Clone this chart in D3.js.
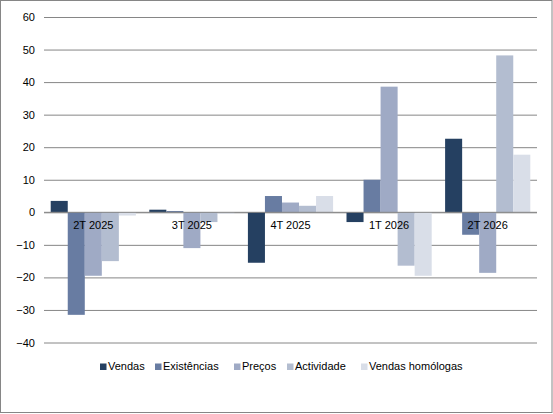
<!DOCTYPE html>
<html>
<head>
<meta charset="utf-8">
<script src="https://cdn.jsdelivr.net/npm/d3@7/dist/d3.min.js"></script>
<style>
  html, body { margin: 0; padding: 0; background: #fff; }
  svg { display: block; }
  text { font-family: "Liberation Sans", Arial, sans-serif; font-size: 11px; fill: #000; }
</style>
</head>
<body>
<svg id="chart" width="553" height="414"></svg>
<script>
const categories = ["2T 2025", "3T 2025", "4T 2025", "1T 2026", "2T 2026"];
const seriesNames = ["Vendas", "Existências", "Preços", "Actividade", "Vendas homólogas"];
const vendas      = [3.5, 0.8, -15.5, -3.0, 22.6];
const existencias = [-31.5, 0.4, 5.0, 10.0, -6.9];
const precos      = [-19.5, -11.0, 3.0, 38.6, -18.6];
const actividade  = [-15.0, -3.0, 2.0, -16.4, 48.2];
const vendasHom   = [-1.0, -0.4, 5.0, -19.5, 17.7];
const yTicks = [-40, -30, -20, -10, 0, 10, 20, 30, 40, 50, 60];
const colors = ["#254061", "#687CA2", "#9FAAC5", "#B3BDD0", "#D9DEE8"];

const seriesValues = [vendas, existencias, precos, actividade, vendasHom];

const svg = d3.select("#chart");

// outer frame
svg.append("rect")
  .attr("x", 0.5).attr("y", 0.5)
  .attr("width", 551.5).attr("height", 412)
  .attr("fill", "#fff").attr("stroke", "#868686").attr("stroke-width", 1);

const x0 = d3.scaleBand().domain(categories).range([44, 537]).paddingInner(0).paddingOuter(0);
const inner = x0.bandwidth() * 0.068;
const x1 = d3.scaleBand().domain(seriesNames).range([inner, x0.bandwidth() - inner]).padding(0);
const y = d3.scaleLinear().domain([-40, 60]).range([342.5, 17]);

// gridlines
const yAxis = d3.axisLeft(y).tickValues(yTicks).tickSize(-(537 - 44)).tickPadding(9).tickFormat(d3.format("d"));
const gAxis = svg.append("g").attr("transform", "translate(44,0)").call(yAxis);
gAxis.select(".domain").remove();
gAxis.selectAll(".tick line").attr("stroke", "#868686").attr("stroke-width", 1);
gAxis.selectAll(".tick text").attr("font-size", 11).attr("font-family", "Liberation Sans, Arial, sans-serif").attr("fill", "#000");

// bars
const groups = svg.append("g").selectAll("g")
  .data(categories)
  .join("g")
  .attr("transform", d => `translate(${x0(d)},0)`);

groups.selectAll("rect")
  .data((c, ci) => seriesNames.map((s, si) => ({ s, si, v: seriesValues[si][ci] })))
  .join("rect")
  .attr("x", d => x1(d.s))
  .attr("width", x1.bandwidth())
  .attr("y", d => y(Math.max(0, d.v)))
  .attr("height", d => Math.abs(y(d.v) - y(0)))
  .attr("fill", d => colors[d.si]);

// zero axis line
svg.append("line")
  .attr("x1", 44).attr("x2", 537)
  .attr("y1", y(0)).attr("y2", y(0))
  .attr("stroke", "#868686").attr("stroke-width", 1);

// category labels
svg.append("g").selectAll("text")
  .data(categories)
  .join("text")
  .attr("x", d => x0(d) + x0.bandwidth() / 2)
  .attr("y", y(0) + 16.5)
  .attr("text-anchor", "middle")
  .text(d => d);

// legend (layout positions)
const legendX = [100, 155, 234, 287, 361];
const ly = 370;
const legend = svg.append("g");
seriesNames.forEach((name, i) => {
  legend.append("rect")
    .attr("x", legendX[i]).attr("y", ly - 6.5)
    .attr("width", 6.5).attr("height", 6.5)
    .attr("fill", colors[i]);
  legend.append("text")
    .attr("x", legendX[i] + 8).attr("y", ly)
    .attr("font-size", 12)
    .text(name);
});
</script>
</body>
</html>
